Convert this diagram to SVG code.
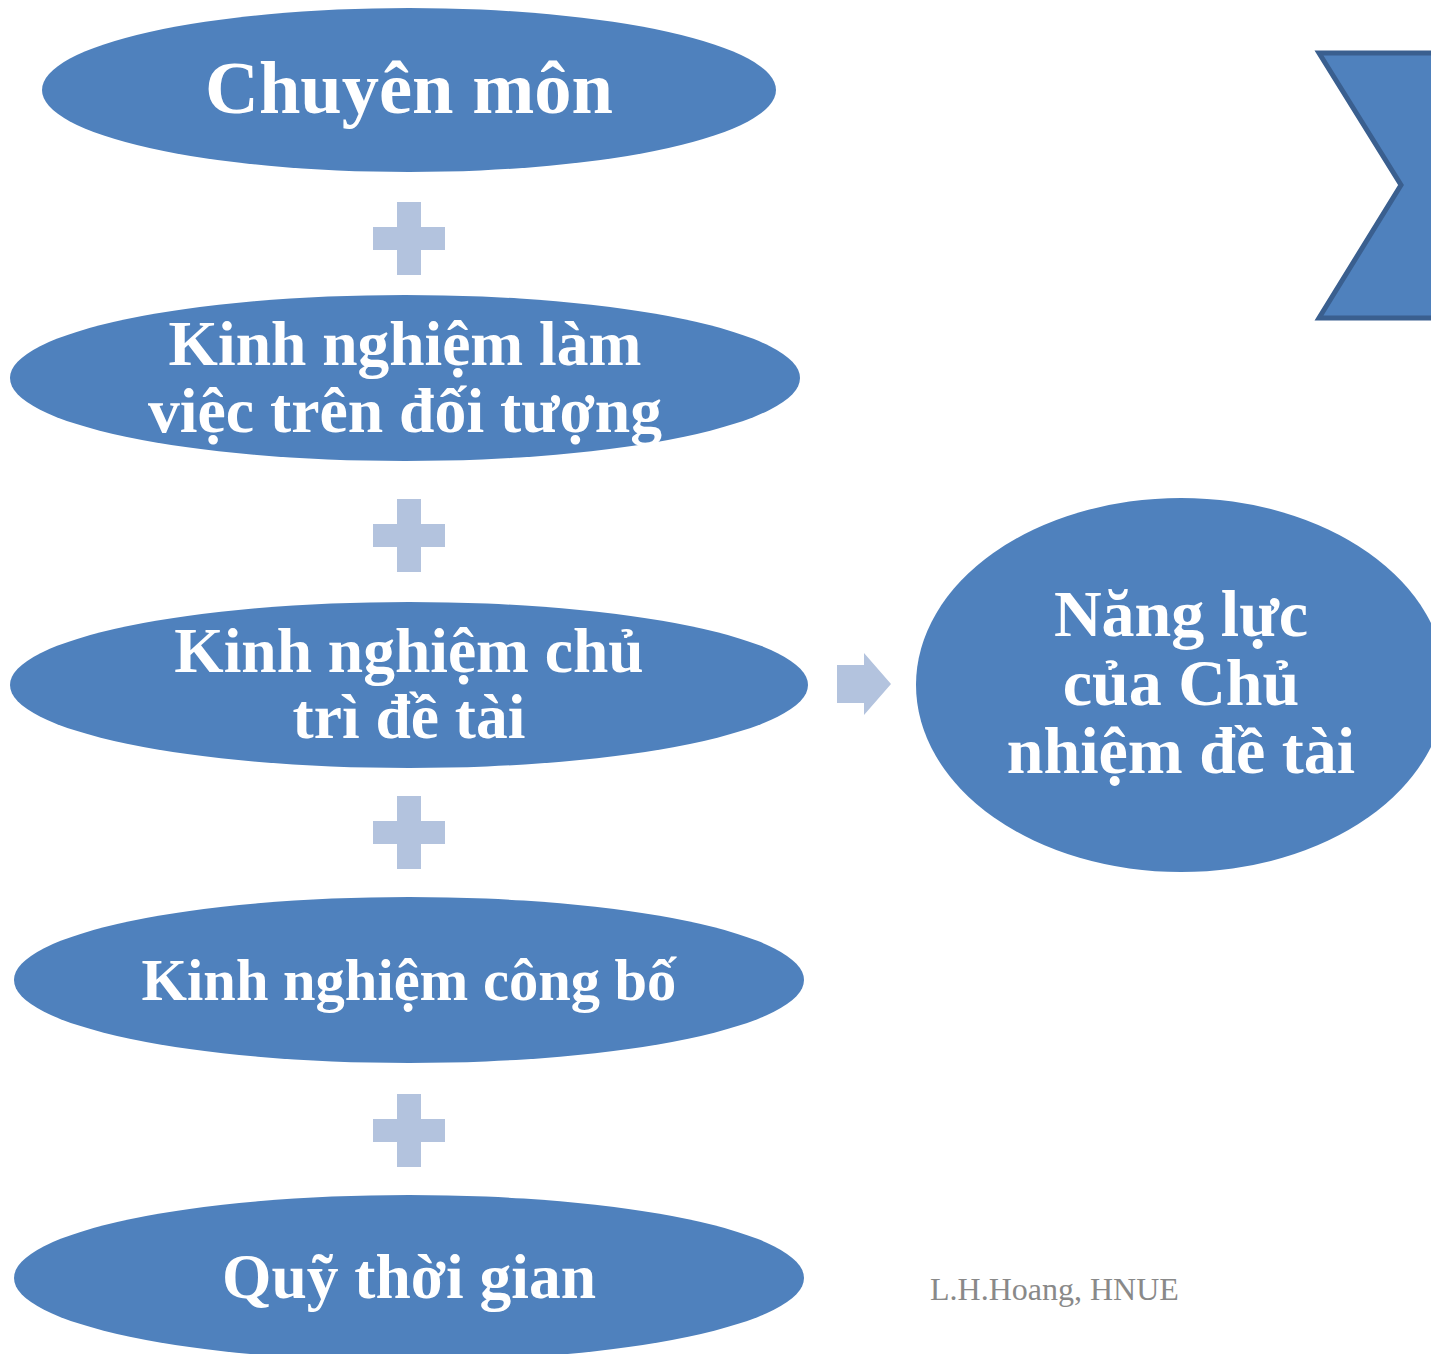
<svg xmlns="http://www.w3.org/2000/svg" width="1431" height="1354" viewBox="0 0 1431 1354">
<style>
.node{fill:#4F81BD;}
.t{font-family:"Liberation Serif","Times New Roman",serif;font-weight:bold;fill:#FFFFFF;text-anchor:middle;}
.plus{fill:#B3C3DE;}
.foot{font-family:"Liberation Serif","Times New Roman",serif;fill:#898989;font-size:32px;}
</style>
<rect width="1431" height="1354" fill="#FFFFFF"/>
<g id="chevron">
<polygon points="1319,53 1440,53 1440,318 1319,318 1401,185" fill="#4F81BD" stroke="#3A5F8F" stroke-width="5" stroke-linejoin="miter"/>
</g>
<g id="n1">
<ellipse class="node" cx="409" cy="90" rx="367" ry="82"/>
<text class="t" x="409" y="113" font-size="74.5">Chuyên môn</text>
</g>
<g id="n2">
<ellipse class="node" cx="405" cy="378" rx="395" ry="83"/>
<text class="t" x="405" y="365" font-size="63.5">Kinh nghiệm làm</text>
<text class="t" x="405" y="432" font-size="63.5" textLength="514" lengthAdjust="spacingAndGlyphs">việc trên đối tượng</text>
</g>
<g id="n3">
<ellipse class="node" cx="409" cy="685" rx="399" ry="83"/>
<text class="t" x="409" y="672" font-size="63.5">Kinh nghiệm chủ</text>
<text class="t" x="409" y="738" font-size="63.5">trì đề tài</text>
</g>
<g id="n4">
<ellipse class="node" cx="409" cy="980" rx="395" ry="83"/>
<text class="t" x="409" y="1000" font-size="58.5">Kinh nghiệm công bố</text>
</g>
<g id="n5">
<ellipse class="node" cx="409" cy="1278" rx="395" ry="83"/>
<text class="t" x="409" y="1298" font-size="63.5">Quỹ thời gian</text>
</g>
<g id="result">
<ellipse class="node" cx="1181" cy="685" rx="265" ry="187"/>
<text class="t" x="1181" y="636" font-size="66">Năng lực</text>
<text class="t" x="1181" y="705" font-size="66">của Chủ</text>
<text class="t" x="1181" y="773" font-size="66">nhiệm đề tài</text>
</g>
<g id="connectors">
<path class="plus" d="M397,202 H421 V227 H445 V250 H421 V275 H397 V250 H373 V227 H397 Z"/>
<path class="plus" d="M397,499 H421 V524 H445 V547 H421 V572 H397 V547 H373 V524 H397 Z"/>
<path class="plus" d="M397,796 H421 V821 H445 V844 H421 V869 H397 V844 H373 V821 H397 Z"/>
<path class="plus" d="M397,1094 H421 V1119 H445 V1142 H421 V1167 H397 V1142 H373 V1119 H397 Z"/>
<polygon class="plus" points="837,665 864,665 864,653 891,684 864,715 864,703 837,703"/>
</g>
<text class="foot" x="930" y="1300">L.H.Hoang, HNUE</text>
</svg>
